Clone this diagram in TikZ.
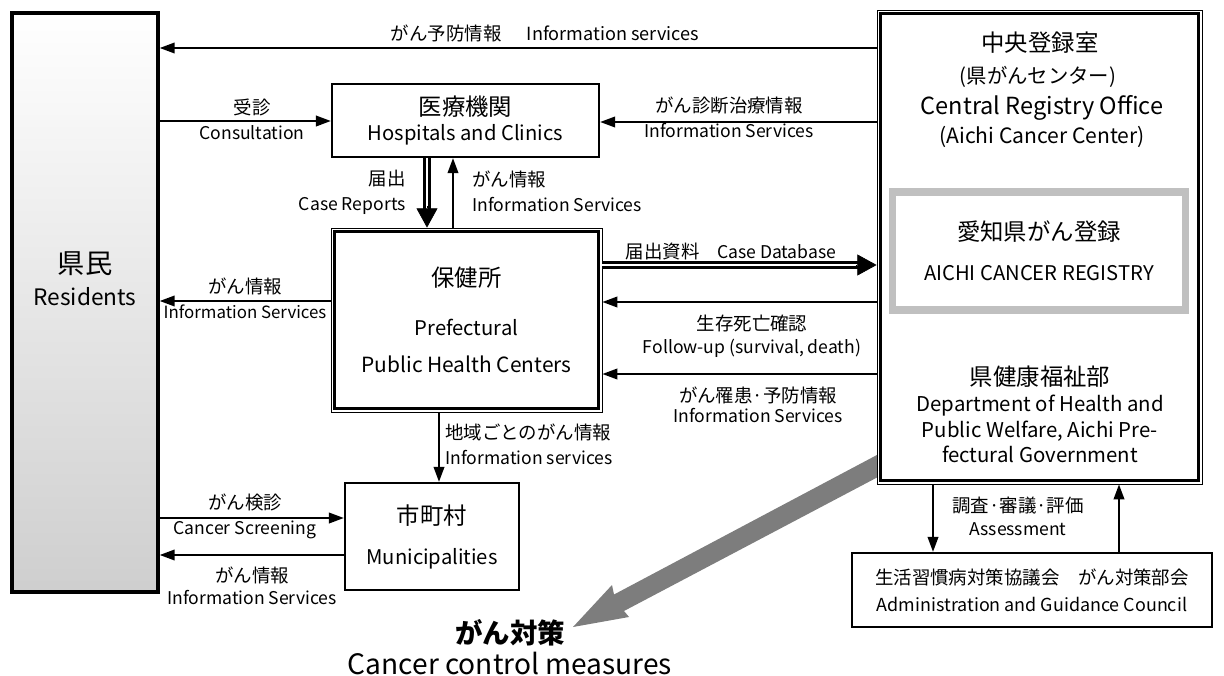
\documentclass[tikz,border=0pt]{standalone}
\usepackage{fontspec}
\setmainfont{Noto Sans CJK JP}
\usetikzlibrary{arrows.meta,calc}
\definecolor{bigarrow}{RGB}{125,125,125}
\definecolor{regframe}{RGB}{192,192,192}
\newcommand{\jpbox}{\fontsize{13.3}{16}\selectfont}
\newcommand{\jplbl}{\fontsize{10.5}{12}\selectfont}

\begin{document}
\begin{tikzpicture}[x=0.02cm,y=-0.02cm,
    box/.style={draw, line width=1.3pt, fill=white, inner sep=0pt, align=center},
    arr/.style={line width=1.1pt, -{Triangle[length=8.5pt,width=6pt]}},
    bigtip/.style={line width=0.4pt, -{Triangle[length=11pt,width=12pt]}},
    dbl/.style={double, line width=1.8pt, double distance=1.2pt, shorten >=9pt},
    lbl/.style={inner sep=0pt, align=center, font=\fontsize{10}{14.2}\selectfont}]
  \useasboundingbox (0,0) rectangle (1224,676);

  % wide arrow to the measures
  \fill[bigarrow] (573,627) -- (629,617) -- (624,611) -- (889.7,470.8)
      -- (880.3,453.2) -- (614,594.5) -- (612,585) -- cycle;

  \node[box, line width=2pt, minimum width=2.92cm, minimum height=11.58cm,
        top color=white, bottom color=gray!38] (res) at (85,302.5) {};
  \node[inner sep=0pt, align=center, font=\fontsize{12.9}{18}\selectfont] (restxt) at (85,279)
        {{\fontsize{15.5}{18}\selectfont 県民}\\Residents};

  \node[box, minimum width=5.34cm, minimum height=1.46cm, font=\fontsize{11.5}{14.2}\selectfont]
        (hosp) at (465.5,120.5) {{\jpbox 医療機関}\\Hospitals and Clinics};

  \node[box, line width=0.5pt, minimum width=5.42cm, minimum height=3.68cm,
        font=\fontsize{11.5}{21.5}\selectfont] (phc) at (466.5,320)
        {{\jpbox 保健所}\\[6.3pt]Prefectural\\{\fontsize{11.9}{14}\selectfont Public Health Centers}};
  \draw[line width=2pt] ($(phc.north west)+(4,4)$) rectangle ($(phc.south east)+(-4,-4)$);

  \node[box, line width=0.5pt, minimum width=6.5cm, minimum height=9.48cm] (cro) at (1039.5,247) {};
  \draw[line width=2pt] ($(cro.north west)+(4,4)$) rectangle ($(cro.south east)+(-4,-4)$);
  \node[inner sep=0pt, font=\jpbox] (crojp) at (1040,43) {中央登録室};
  \node[inner sep=0pt, font=\fontsize{11.6}{13}\selectfont] (crosub) at (1038,77) {(県がんセンター)};
  \node[inner sep=0pt, align=center, font=\fontsize{12}{16.4}\selectfont] (croen) at (1042,121.5)
        {{\fontsize{13.4}{15}\selectfont Central Registry Office}\\(Aichi Cancer Center)};
  \node[box, draw=regframe, line width=4pt, minimum width=5.88cm, minimum height=2.36cm,
        font=\fontsize{11.5}{22.7}\selectfont] (reg) at (1039,251)
        {{\jpbox 愛知県がん登録}\\AICHI CANCER REGISTRY};
  \node[inner sep=0pt, align=center, font=\fontsize{11.6}{14.7}\selectfont] (dept) at (1040,414.5)
        {{\jpbox 県健康福祉部}\\Department of Health and\\Public Welfare, Aichi Pre-\\fectural Government};

  \node[box, minimum width=3.48cm, minimum height=2.14cm, font=\fontsize{11.5}{22.7}\selectfont]
        (mun) at (432,536.5) {{\jpbox 市町村}\\Municipalities};

  \node[box, minimum width=7.2cm, minimum height=1.48cm, font=\fontsize{10.2}{15.3}\selectfont]
        (cncl) at (1032,590) {{\jplbl 生活習慣病対策協議会\quad がん対策部会}\\Administration and Guidance Council};

  \node[inner sep=0pt, align=center, font=\fontsize{16}{17.6}\selectfont] (goal) at (510,647.5)
        {{\fontsize{15.6}{18}\selectfont\bfseries がん対策}\\Cancer control measures};

  % connectors
  \draw[arr] (cro.west |- 0,48) -- (res.east |- 0,48);
  \node[lbl, font=\fontsize{10.3}{14.2}\selectfont] (ltop) at (545,33) {{\jplbl がん予防情報}\quad\, Information services};

  \draw[arr] (res.east |- 0,121) -- (hosp.west |- 0,121);
  \node[lbl] (lcons) at (252,119.5) {{\jplbl 受診}\\Consultation};

  \draw[arr] (cro.west |- 0,122) -- (hosp.east |- 0,122);
  \node[lbl] (ldiag) at (729,117.5) {{\jplbl がん診断治療情報}\\Information Services};

  \coordinate (cr1) at (hosp.south -| 427,0);
  \coordinate (cr2) at (phc.north -| 427,0);
  \draw[dbl] (cr1) -- (cr2);
  \draw[bigtip] ($(cr2)!12pt!(cr1)$) -- (cr2);
  \node[lbl, anchor=east, align=right] (lcr) at (406,192) {{\jplbl 届出}\\Case Reports};

  \draw[arr] (phc.north -| 453,0) -- (hosp.south -| 453,0);
  \node[lbl, anchor=west, align=left] (linfo) at (472,191.5) {{\jplbl がん情報}\\Information Services};

  \draw[arr] (phc.west |- 0,301) -- (res.east |- 0,301);
  \node[lbl, font=\fontsize{9.6}{14.2}\selectfont] (lres) at (245,298.5) {{\jplbl がん情報}\\Information Services};

  \coordinate (db1) at (phc.east |- 0,265);
  \coordinate (db2) at (cro.west |- 0,265);
  \draw[dbl] (db1) -- (db2);
  \draw[bigtip] ($(db2)!12pt!(db1)$) -- (db2);
  \node[lbl] (ldb) at (731,252) {{\jplbl 届出資料}\quad Case Database};

  \draw[arr] (cro.west |- 0,302) -- (phc.east |- 0,302);
  \node[lbl, font=\fontsize{10}{13}\selectfont] (lfol) at (752,336.5) {{\jplbl 生存死亡確認}\\Follow-up (survival, death)};

  \draw[arr] (cro.west |- 0,374) -- (phc.east |- 0,374);
  \node[lbl, font=\fontsize{10}{11.5}\selectfont] (lprev) at (758,404.5) {{\jplbl がん罹患·予防情報}\\Information Services};

  \draw[arr] (phc.south -| 439,0) -- (mun.north -| 439,0);
  \node[lbl, anchor=west, align=left] (lloc) at (445,444.5) {{\jplbl 地域ごとのがん情報}\\Information services};

  \draw[arr] (res.east |- 0,518) -- (mun.west |- 0,518);
  \node[lbl] (lscr) at (245,516.5) {{\jplbl がん検診}\\Cancer Screening};

  \draw[arr] (mun.west |- 0,555) -- (res.east |- 0,555);
  \node[lbl, font=\fontsize{10}{12.5}\selectfont] (lmun) at (252,586) {{\jplbl がん情報}\\Information Services};

  \draw[arr] (cro.south -| 933,0) -- (cncl.north -| 933,0);
  \draw[arr] (cncl.north -| 1119,0) -- (cro.south -| 1119,0);
  \node[lbl, font=\fontsize{10}{13}\selectfont] (lass) at (1018,516.5) {{\jplbl 調査·審議·評価}\\Assessment};
\end{tikzpicture}
\end{document}
